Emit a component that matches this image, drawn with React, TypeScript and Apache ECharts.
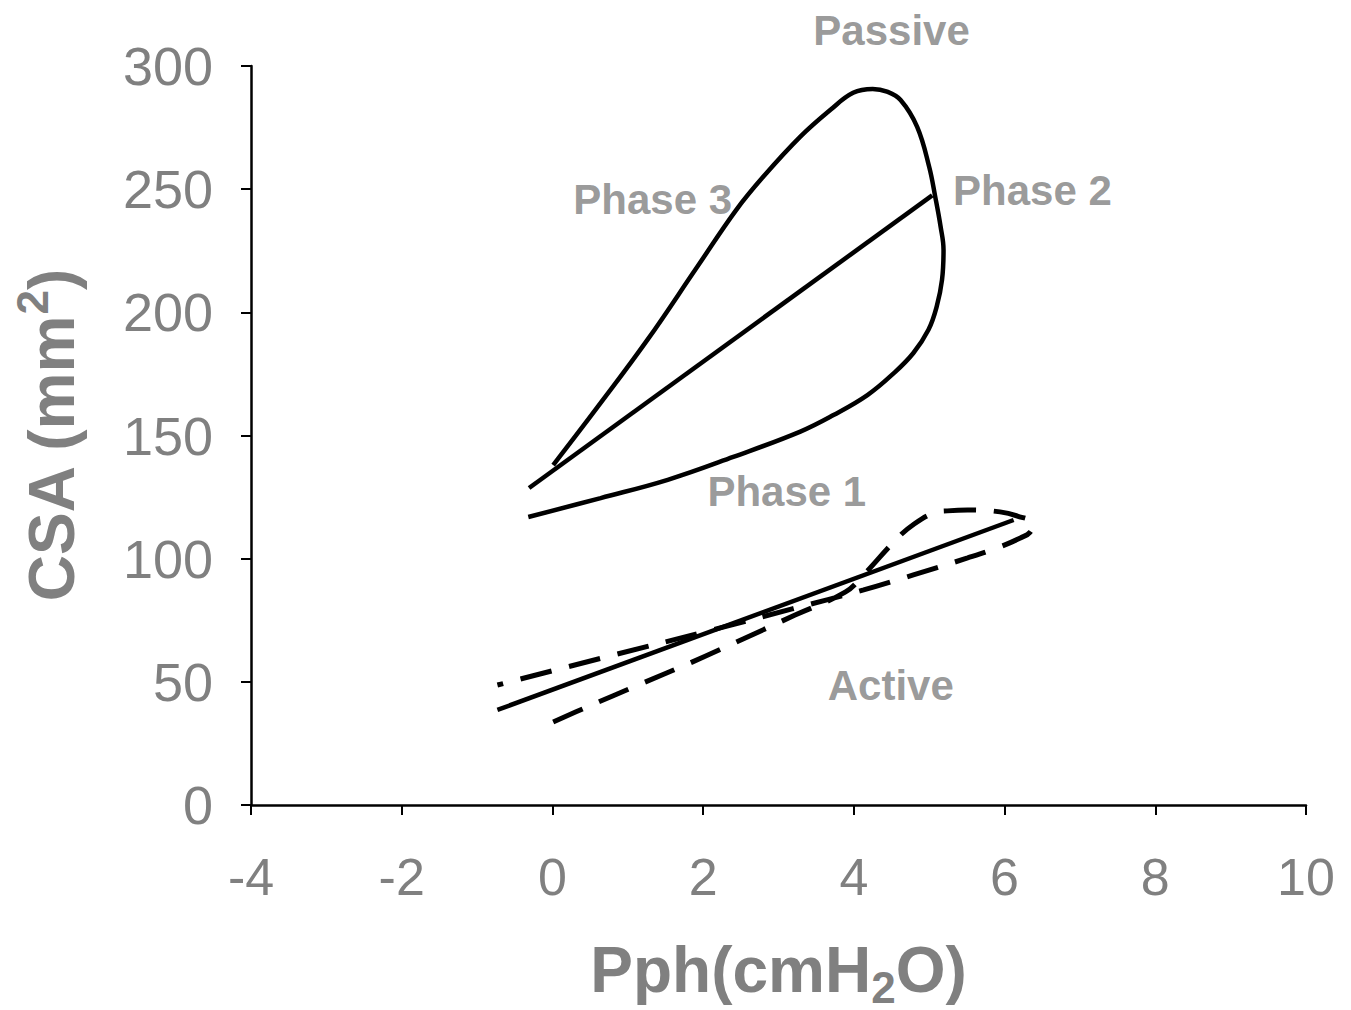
import React, { useEffect, useRef } from "react";
import * as echarts from "echarts";

// Passive loop (Phase 1 -> Phase 2 -> Phase 3)
const passiveLoopX = [-0.32, 0.64, 1.53, 2.4, 3.29, 3.73, 4.18, 4.53, 4.79, 4.99, 5.1, 5.17, 5.19, 5.15, 5.08, 5.0, 4.84, 4.62, 4.44, 4.25, 3.99, 3.69, 3.29, 2.8, 2.44, 1.92, 1.26, 0.6, 0.01];
const passiveLoopY = [116.9, 124.6, 132.0, 141.3, 151.6, 158.3, 166.4, 175.3, 183.5, 192.9, 202.4, 213.2, 225.3, 235.0, 246.9, 259.0, 275.3, 286.2, 289.6, 290.7, 289.1, 282.2, 271.3, 255.1, 241.6, 218.4, 188.8, 161.6, 138.0];
// Passive straight line
const passiveLineX = [-0.31, 5.04];
const passiveLineY = [128.7, 247.5];
// Active dashed loop
const activeLoopX = [0.01, 0.46, 1.17, 1.86, 2.53, 3.22, 3.89, 4.13, 4.58, 4.8, 5.06, 5.24, 5.51, 5.94, 6.17, 6.37, 6.34, 6.21, 5.94, 5.51, 4.79, 4.13, 3.18, 2.06, 0.66, -0.73];
const activeLoopY = [33.7, 39.8, 49.1, 58.1, 67.4, 77.1, 86.5, 93.4, 108.4, 114.1, 118.6, 119.4, 119.8, 119.0, 117.3, 114.5, 110.8, 108.4, 104.8, 100.3, 93.4, 87.3, 79.6, 70.6, 59.7, 48.7];
// Active straight line
const activeLineX = [-0.73, 6.12];
const activeLineY = [38.6, 115.7];
// Annotations
const labelTexts = ["Passive", "Phase 3", "Phase 2", "Phase 1", "Active"];
const labelX = [4.5, 1.33, 6.37, 3.11, 4.49];
const labelY = [314.6, 246.0, 249.3, 127.1, 48.7];

const zip = (xs: number[], ys: number[]) => xs.map((x, i) => [x, ys[i]]);

const GRAY = "#808080";
const FONT = "'Liberation Sans', Arial, sans-serif";

export default function App() {
  const ref = useRef<HTMLDivElement>(null);
  useEffect(() => {
    document.body.style.margin = "0";
    const chart = echarts.init(ref.current!, null, { renderer: "svg" });
    chart.setOption({
      animation: false,
      backgroundColor: "#ffffff",
      textStyle: { fontFamily: FONT },
      grid: { left: 251, right: 45, top: 66, bottom: 205, containLabel: false, outerBoundsMode: "none" },
      xAxis: {
        type: "value",
        min: -4,
        max: 10,
        interval: 2,
        splitLine: { show: false },
        axisLine: { onZero: false, lineStyle: { color: "#000", width: 2.5 } },
        axisTick: { inside: false, length: 10, lineStyle: { color: "#000", width: 2 } },
        axisLabel: { color: GRAY, fontSize: 52, fontFamily: FONT, margin: 46 },
        name: "{a|Pph(cmH}{b|2}{a|O)}",
        nameLocation: "middle",
        nameGap: 126,
        nameTextStyle: {
          rich: {
            a: { fontSize: 64, fontWeight: "bold", color: GRAY, fontFamily: FONT },
            b: { fontSize: 44, fontWeight: "bold", color: GRAY, fontFamily: FONT, padding: [34, 0, 0, 0] },
          },
        },
      },
      yAxis: {
        type: "value",
        min: 0,
        max: 300,
        interval: 50,
        splitLine: { show: false },
        axisLine: { show: true, onZero: false, lineStyle: { color: "#000", width: 2.5 } },
        axisTick: { show: true, inside: false, length: 10, lineStyle: { color: "#000", width: 2 } },
        axisLabel: { color: GRAY, fontSize: 54, fontFamily: FONT, margin: 38 },
        name: "{a|CSA (mm}{b|2}{a|)}",
        nameLocation: "middle",
        nameRotate: 90,
        nameGap: 157,
        nameTextStyle: {
          rich: {
            a: { fontSize: 64, fontWeight: "bold", color: GRAY, fontFamily: FONT },
            b: { fontSize: 44, fontWeight: "bold", color: GRAY, fontFamily: FONT, padding: [0, 0, 40, 0] },
          },
        },
      },
      series: [
        {
          type: "line",
          data: zip(passiveLoopX, passiveLoopY),
          smooth: 0.4,
          showSymbol: false,
          symbol: "none",
          lineStyle: { color: "#000", width: 4.5 },
        },
        {
          type: "line",
          data: zip(passiveLineX, passiveLineY),
          showSymbol: false,
          symbol: "none",
          lineStyle: { color: "#000", width: 4.5 },
        },
        {
          type: "line",
          data: zip(activeLoopX, activeLoopY),
          smooth: 0.4,
          showSymbol: false,
          symbol: "none",
          lineStyle: { color: "#000", width: 5, type: [32, 18], dashOffset: 0 },
        },
        {
          type: "line",
          data: zip(activeLineX, activeLineY),
          showSymbol: false,
          symbol: "none",
          lineStyle: { color: "#000", width: 4.5 },
        },
        {
          type: "scatter",
          clip: false,
          symbolSize: 0,
          silent: true,
          data: labelTexts.map((t, i) => ({ value: [labelX[i], labelY[i]], name: t })),
          label: {
            show: true,
            position: "inside",
            formatter: (p: any) => p.name,
            color: GRAY,
            fontSize: 42,
            fontWeight: "bold",
            fontFamily: FONT,
          },
        },
      ],
    });
    return () => chart.dispose();
  }, []);
  return <div ref={ref} style={{ position: "absolute", left: 0, top: 0, width: 1351, height: 1010 }} />;
}
